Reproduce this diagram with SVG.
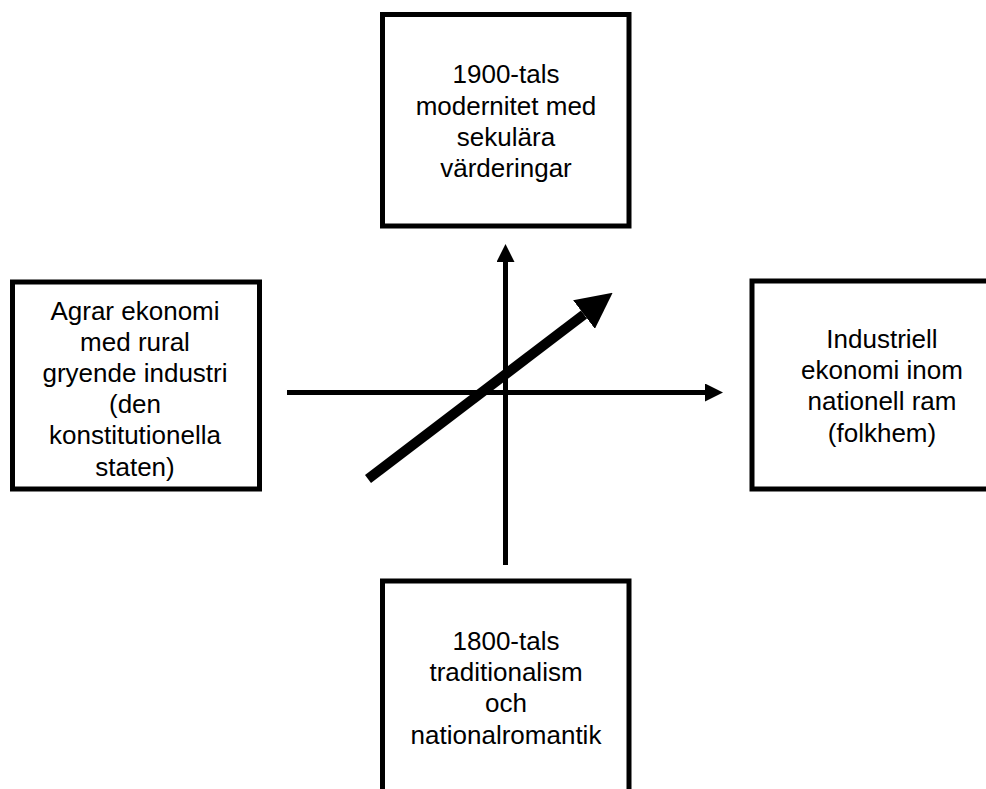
<svg xmlns="http://www.w3.org/2000/svg" width="986" height="789" viewBox="0 0 986 789">
<style>
.box{fill:#fff;stroke:#000;stroke-width:5}
.lbl{font-family:"Liberation Sans",Arial,sans-serif;font-size:26px;fill:#000;text-anchor:middle}
.axis{stroke:#000;stroke-width:5;fill:none}
.main{stroke:#000;stroke-width:10;fill:none}
</style>
<defs>
<marker id="headThin" markerUnits="userSpaceOnUse" markerWidth="18" markerHeight="18" viewBox="0 0 18 18" refX="0" refY="9" orient="auto">
<path d="M0,0 L18,9 L0,18 Z" fill="#000"/>
</marker>
<marker id="headThick" markerUnits="userSpaceOnUse" markerWidth="36" markerHeight="36" viewBox="0 0 36 36" refX="0" refY="18" orient="auto">
<path d="M0,0 L36,18 L0,36 Z" fill="#000"/>
</marker>
</defs>
<rect width="986" height="789" fill="#fff"/>
<g id="top">
<rect class="box" x="382.5" y="14.5" width="246.5" height="211.5"/>
<text class="lbl"><tspan x="506" y="83.3">1900-tals</tspan><tspan x="506" y="114.5">modernitet med</tspan><tspan x="506" y="145.7">sekulära</tspan><tspan x="506" y="176.9">värderingar</tspan></text>
</g>
<g id="left">
<rect class="box" x="12.5" y="282" width="247" height="207"/>
<text class="lbl"><tspan x="135" y="319.5">Agrar ekonomi</tspan><tspan x="135" y="350.7">med rural</tspan><tspan x="135" y="381.9">gryende industri</tspan><tspan x="135" y="413.1">(den</tspan><tspan x="135" y="444.3">konstitutionella</tspan><tspan x="135" y="475.5">staten)</tspan></text>
</g>
<g id="right">
<rect class="box" x="752" y="281" width="260" height="208"/>
<text class="lbl"><tspan x="882" y="348">Industriell</tspan><tspan x="882" y="379.2">ekonomi inom</tspan><tspan x="882" y="410.4">nationell ram</tspan><tspan x="882" y="441.6">(folkhem)</tspan></text>
</g>
<g id="bottom">
<rect class="box" x="382.5" y="581" width="246.5" height="240"/>
<text class="lbl"><tspan x="506" y="650">1800-tals</tspan><tspan x="506" y="681.2">traditionalism</tspan><tspan x="506" y="712.4">och</tspan><tspan x="506" y="743.6">nationalromantik</tspan></text>
</g>
<g id="connectors">
<line class="axis" x1="287" y1="392.5" x2="705" y2="392.5" marker-end="url(#headThin)"/>
<line class="axis" x1="505.5" y1="565" x2="505.5" y2="262" marker-end="url(#headThin)"/>
<line class="main" x1="368" y1="479" x2="584" y2="314.5" marker-end="url(#headThick)"/>
</g>
</svg>
